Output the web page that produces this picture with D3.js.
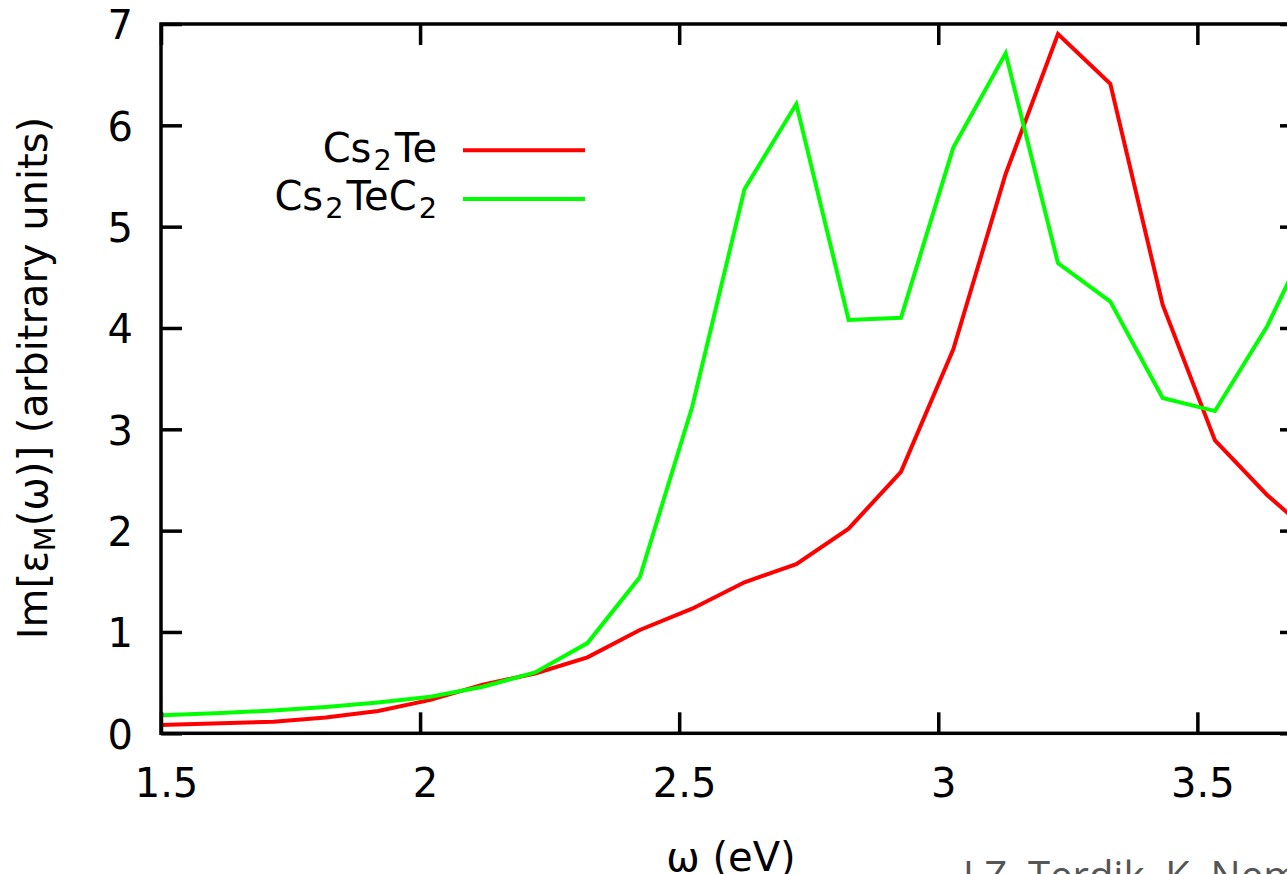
<!DOCTYPE html>
<html>
<head>
<meta charset="utf-8">
<script src="https://cdn.jsdelivr.net/npm/d3@7"></script>
<style>
  html, body { margin: 0; padding: 0; background: #fff; }
  svg { display: block; font-family: "DejaVu Sans", sans-serif; }
</style>
</head>
<body>
<svg id="chart" width="1287" height="874"></svg>
<script>
// ---- data ----
const energies = [1.414, 1.515, 1.616, 1.717, 1.818, 1.919, 2.020, 2.121, 2.222, 2.323, 2.424, 2.525,
                  2.626, 2.726, 2.827, 2.928, 3.029, 3.130, 3.231, 3.332, 3.433, 3.534, 3.635, 3.736];
const cs2te   = [0.07, 0.085, 0.10, 0.115, 0.155, 0.22, 0.33, 0.48, 0.59, 0.75, 1.02, 1.23,
                 1.49, 1.67, 2.02, 2.58, 3.79, 5.52, 6.90, 6.41, 4.23, 2.89, 2.35, 1.90];
const cs2tec2 = [0.16, 0.18, 0.20, 0.225, 0.26, 0.305, 0.36, 0.46, 0.60, 0.89, 1.54, 3.22,
                 5.37, 6.21, 4.08, 4.10, 5.78, 6.71, 4.64, 4.26, 3.31, 3.18, 4.02, 5.10];
const xTicks = [1.5, 2, 2.5, 3, 3.5];
const xTickLabels = ["1.5", "2", "2.5", "3", "3.5"];
const yTicks = [0, 1, 2, 3, 4, 5, 6, 7];
const yTickLabels = ["0", "1", "2", "3", "4", "5", "6", "7"];
const seriesNames = ["Cs2Te", "Cs2TeC2"];
const seriesColors = ["#ff0000", "#00ff00"];

// ---- layout ----
const svg = d3.select("#chart");
const L = 161, R = 1301, T = 24, B = 733.3;
const x = d3.scaleLinear().domain([1.5, 3.7]).range([L, R]);
const y = d3.scaleLinear().domain([0, 7]).range([B, T]);
const FS = 40;
const SUB = FS * 0.72;
const tickLen = 21;
const axisW = 3.5;

svg.append("defs").append("clipPath").attr("id", "plotclip")
  .append("rect").attr("x", L).attr("y", T).attr("width", R - L).attr("height", B - T);

// series
const series = [cs2te, cs2tec2];
const line = d3.line().x((d, i) => x(energies[i])).y(d => y(d));
series.forEach((vals, si) => {
  svg.append("path")
    .datum(vals)
    .attr("clip-path", "url(#plotclip)")
    .attr("fill", "none")
    .attr("stroke", seriesColors[si])
    .attr("stroke-width", 4)
    .attr("stroke-linejoin", "miter")
    .attr("d", line);
});

// axes (ticks pointing inward on all four sides)
function styleAxis(g) {
  g.select(".domain").remove();
  g.selectAll(".tick line").attr("stroke", "#000").attr("stroke-width", axisW);
  g.selectAll(".tick text").attr("fill", "#000").style("font-size", FS + "px")
    .style("font-family", "'DejaVu Sans', sans-serif");
}
const gb = svg.append("g").attr("transform", `translate(0,${B})`)
  .call(d3.axisBottom(x).tickValues(xTicks).tickSize(-tickLen).tickPadding(35)
        .tickFormat((d, i) => xTickLabels[i]));
styleAxis(gb);
gb.selectAll(".tick text").attr("dx", 5);

const gt = svg.append("g").attr("transform", `translate(0,${T})`)
  .call(d3.axisTop(x).tickValues(xTicks).tickSize(-tickLen).tickFormat(""));
styleAxis(gt);

const gl = svg.append("g").attr("transform", `translate(${L},0)`)
  .call(d3.axisLeft(y).tickValues(yTicks).tickSize(-tickLen).tickPadding(28)
        .tickFormat((d, i) => yTickLabels[i]));
styleAxis(gl);
gl.selectAll(".tick text").attr("dy", "0.37em");

const gr = svg.append("g").attr("transform", `translate(${R},0)`)
  .call(d3.axisRight(y).tickValues(yTicks).tickSize(-tickLen).tickFormat(""));
styleAxis(gr);

// frame
svg.append("rect").attr("x", L).attr("y", T).attr("width", R - L).attr("height", B - T)
  .attr("fill", "none").attr("stroke", "#000").attr("stroke-width", axisW);

// legend
const legY = [161.7, 210];
const lineY = [150.3, 199];
function chem(textSel, parts) {
  parts.forEach(p => {
    if (p.sub) {
      textSel.append("tspan").attr("dy", 8).attr("dx", 2).style("font-size", SUB + "px").text(p.t);
    } else {
      textSel.append("tspan").attr("dy", p.back ? -8 : 0).attr("dx", p.back ? 3 : 0).text(p.t);
    }
  });
}
const legParts = [
  [{t: "Cs"}, {t: "2", sub: true}, {t: "Te", back: true}],
  [{t: "Cs"}, {t: "2", sub: true}, {t: "TeC", back: true}, {t: "2", sub: true}]
];
seriesNames.forEach((name, i) => {
  const t = svg.append("text").attr("x", 437).attr("y", legY[i]).attr("text-anchor", "end")
    .style("font-size", FS + "px").attr("fill", "#000");
  chem(t, legParts[i]);
  svg.append("line").attr("x1", 463).attr("x2", 585).attr("y1", lineY[i]).attr("y2", lineY[i])
    .attr("stroke", seriesColors[i]).attr("stroke-width", 4);
});

// axis labels
const yl = svg.append("text").attr("transform", "translate(47,378) rotate(-90)")
  .attr("text-anchor", "middle").style("font-size", FS + "px").attr("fill", "#000");
yl.append("tspan").text("Im[ε");
yl.append("tspan").attr("dy", 8).style("font-size", SUB + "px").text("M");
yl.append("tspan").attr("dy", -8).text("(ω)] (arbitrary units)");

svg.append("text").attr("x", 731).attr("y", 871).attr("text-anchor", "middle")
  .style("font-size", FS + "px").attr("fill", "#000").text("ω (eV)");

// credit text (cut off at the bottom edge, as in the reference)
svg.append("text").attr("x", 963).attr("y", 890)
  .style("font-size", "40px").style("font-family", "'Open Sans', sans-serif")
  .attr("fill", "#555").text("J.Z. Terdik, K. Nemeth");
</script>
</body>
</html>
